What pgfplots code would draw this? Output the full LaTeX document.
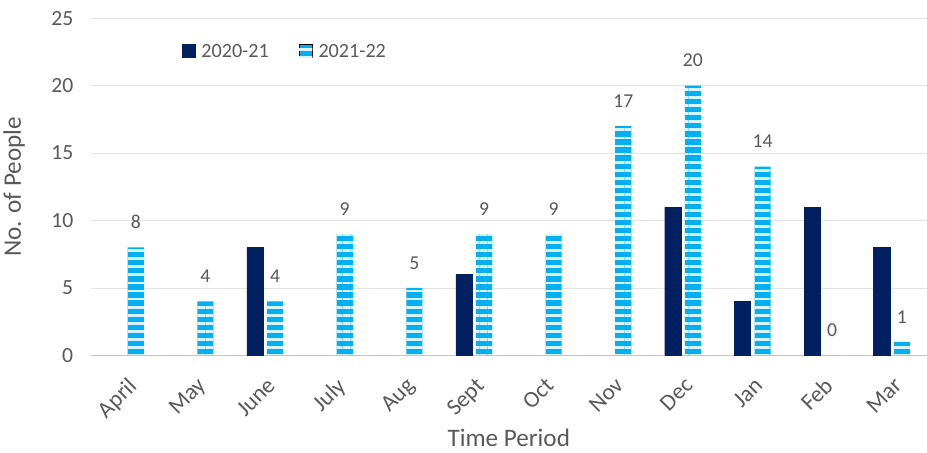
\documentclass[border=0pt]{standalone}
\usepackage{fontspec}
\setmainfont{Carlito}
\usepackage{pgfplots}
\pgfplotsset{compat=1.18}
\usetikzlibrary{patterns.meta}
\definecolor{navy}{HTML}{002060}
\definecolor{skyb}{HTML}{00B0F0}
\definecolor{txt}{HTML}{595959}
\definecolor{grd}{HTML}{E3E3E3}
\begin{document}
\begin{tikzpicture}
\begin{axis}[
    scale only axis,
    width=830pt, height=335pt,
    ybar=4pt, bar width=16pt,
    xmin=-0.5, xmax=11.5,
    ymin=0, ymax=25,
    ytick={0,5,...,25},
    xtick={0,...,11},
    xticklabels={April,May,June,July,Aug,Sept,Oct,Nov,Dec,Jan,Feb,Mar},
    x tick label style={rotate=45, anchor=north east, inner sep=2pt, xshift=-9pt, yshift=-10pt,
        font=\fontsize{23}{25}\selectfont},
    yticklabel style={xshift=-14pt},
    axis x line*=bottom, axis y line*=left,
    y axis line style={draw=none},
    x axis line style={draw=gray!45, line width=0.8pt},
    tick style={draw=none},
    ymajorgrids, grid style={draw=grd, line width=0.8pt},
    font=\fontsize{21}{23}\selectfont,
    tick label style={text=txt, font=\fontsize{21.5}{23}\selectfont},
    /pgf/number format/assume math mode=true,
    label style={text=txt, font=\fontsize{25}{27}\selectfont},
    xlabel={Time Period}, ylabel={No. of People},
    xlabel style={at={(axis description cs:0.5,0)}, anchor=base, yshift=-90pt},
    ylabel style={at={(axis description cs:0,0.5)}, anchor=south, yshift=62pt},
    legend style={at={(0.105,0.935)}, anchor=north west, draw=none, fill=none,
        legend columns=2, text=txt, font=\fontsize{20}{22}\selectfont,
        /tikz/every odd column/.append style={column sep=4pt},
        /tikz/every even column/.append style={column sep=28pt}},
    legend image code/.code={\draw[#1] (0pt,-6pt) rectangle (13pt,7pt);},
]
\addplot[fill=navy, draw=navy] coordinates {
  (2,8)(5,6)(8,11)(9,4)(10,11)(11,8)};
\addplot[fill=skyb, draw=none,
    postaction={pattern={Lines[angle=0,distance=8pt,line width=2.8pt]}, pattern color=white!85!skyb},
    nodes near coords, every node near coord/.append style={text=txt, font=\fontsize{19.5}{21}\selectfont, yshift=15pt},
    point meta=explicit symbolic] coordinates {
  (0,8)[8](1,4)[4](2,4)[4](3,9)[9](4,5)[5](5,9)[9](6,9)[9](7,17)[17](8,20)[20](9,14)[14](10,0)[0](11,1)[1]};
\legend{2020-21,2021-22}
\end{axis}
\path ([yshift=18pt]current axis.north) ([yshift=-96pt]current axis.south);
\end{tikzpicture}
\end{document}
